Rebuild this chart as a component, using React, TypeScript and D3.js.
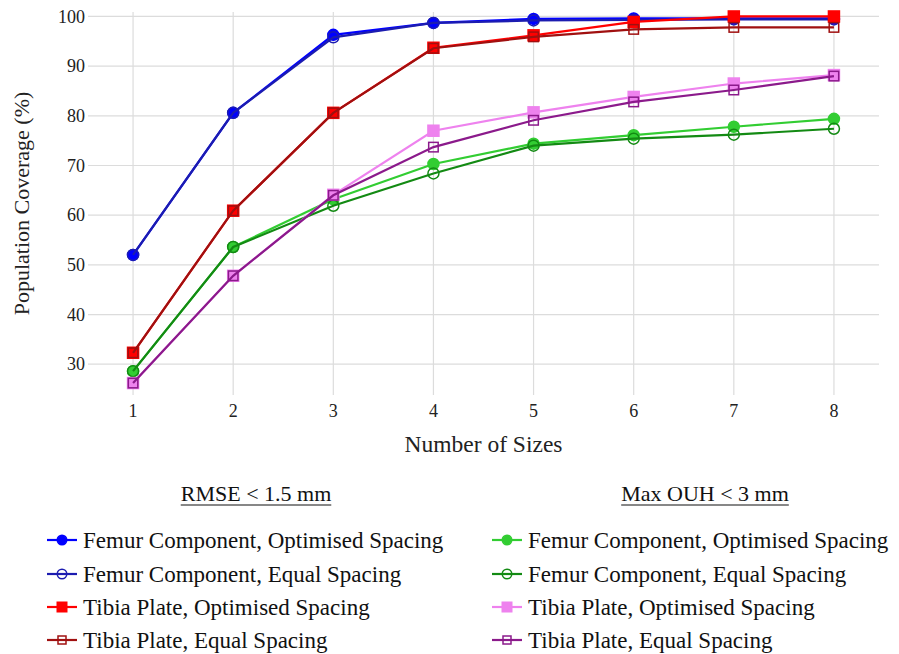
import React, { useEffect, useRef } from 'react';
import * as d3 from 'd3';

// number of sizes on the x axis
const sizes = [1, 2, 3, 4, 5, 6, 7, 8];
const yTicks = [30, 40, 50, 60, 70, 80, 90, 100];

// RMSE < 1.5 mm
const femurOptRmse = [52.0, 80.6, 96.3, 98.7, 99.5, 99.6, 99.6, 99.6];
const femurEqRmse = [52.0, 80.6, 95.8, 98.7, 99.2, 99.3, 99.4, 99.4];
const tibiaOptRmse = [32.3, 60.9, 80.6, 93.7, 96.2, 98.9, 100, 100];
const tibiaEqRmse = [32.3, 60.9, 80.6, 93.6, 95.9, 97.4, 97.8, 97.8];

// Max OUH < 3 mm
const femurOptOuh = [28.6, 53.6, 63.2, 70.3, 74.4, 76.1, 77.8, 79.4];
const femurEqOuh = [28.6, 53.6, 61.9, 68.4, 74.0, 75.4, 76.2, 77.4];
const tibiaOptOuh = [26.2, 47.8, 64.1, 77.0, 80.7, 83.8, 86.5, 88.2];
const tibiaEqOuh = [26.2, 47.8, 64.0, 73.7, 79.1, 82.8, 85.2, 88.0];

const legendTitles = ['RMSE < 1.5 mm', 'Max OUH < 3 mm'];
const seriesLabels = [
  'Femur Component, Optimised Spacing',
  'Femur Component, Equal Spacing',
  'Tibia Plate, Optimised Spacing',
  'Tibia Plate, Equal Spacing',
];

type Series = { values: number[]; color: string; shape: 'circle' | 'square'; filled: boolean; label: string; group: number };

// drawing order: optimised first, equal on top
const series: Series[] = [
  { values: femurOptOuh, color: '#32cd32', shape: 'circle', filled: true, label: seriesLabels[0], group: 1 },
  { values: femurEqOuh, color: '#138a13', shape: 'circle', filled: false, label: seriesLabels[1], group: 1 },
  { values: tibiaOptOuh, color: '#ee82ee', shape: 'square', filled: true, label: seriesLabels[2], group: 1 },
  { values: tibiaEqOuh, color: '#8b1a8b', shape: 'square', filled: false, label: seriesLabels[3], group: 1 },
  { values: femurOptRmse, color: '#0000ff', shape: 'circle', filled: true, label: seriesLabels[0], group: 0 },
  { values: femurEqRmse, color: '#1c1cb0', shape: 'circle', filled: false, label: seriesLabels[1], group: 0 },
  { values: tibiaOptRmse, color: '#ff0000', shape: 'square', filled: true, label: seriesLabels[2], group: 0 },
  { values: tibiaEqRmse, color: '#a01010', shape: 'square', filled: false, label: seriesLabels[3], group: 0 },
];

const FONT = 'Liberation Serif, Times New Roman, serif';

const drawMarker = (g: any, s: Series, cx: number, cy: number, size: number) => {
  if (s.shape === 'circle') {
    g.append('circle').attr('cx', cx).attr('cy', cy).attr('r', size / 2)
      .attr('fill', s.filled ? s.color : 'none')
      .attr('stroke', s.color).attr('stroke-width', 1.5);
  } else {
    const h = s.filled ? size : size - 1.5;
    g.append('rect').attr('x', cx - h / 2).attr('y', cy - h / 2).attr('width', h).attr('height', h)
      .attr('fill', s.filled ? s.color : 'none')
      .attr('stroke', s.color).attr('stroke-width', 1.5);
  }
};

const createChart = (el: SVGSVGElement) => {
  const svg = d3.select(el);
  svg.selectAll('*').remove();

  const left = 88, right = 879, top = 12, bottom = 395;

  const x = d3.scaleLinear().domain([0.55, 8.45]).range([left, right]);
  const y = d3.scaleLinear().domain([23.8, 100.9]).range([bottom, top]);

  // grid
  svg.append('g').selectAll('line').data(yTicks).enter().append('line')
    .attr('x1', left).attr('x2', right)
    .attr('y1', (d) => y(d)).attr('y2', (d) => y(d))
    .attr('stroke', '#dcdcdc').attr('stroke-width', 1.2);
  svg.append('g').selectAll('line').data(sizes).enter().append('line')
    .attr('x1', (d) => x(d)).attr('x2', (d) => x(d))
    .attr('y1', top).attr('y2', bottom)
    .attr('stroke', '#dcdcdc').attr('stroke-width', 1.2);

  // tick labels
  svg.append('g').selectAll('text').data(yTicks).enter().append('text')
    .attr('x', left - 3).attr('y', (d) => y(d)).attr('dy', '0.34em')
    .attr('text-anchor', 'end').attr('font-family', FONT).attr('font-size', 18).attr('fill', '#222')
    .text((d) => d);
  svg.append('g').selectAll('text').data(sizes).enter().append('text')
    .attr('x', (d) => x(d)).attr('y', bottom + 22)
    .attr('text-anchor', 'middle').attr('font-family', FONT).attr('font-size', 18).attr('fill', '#222')
    .text((d) => d);

  // axis titles
  svg.append('text')
    .attr('transform', `translate(29,${(top + bottom) / 2}) rotate(-90)`)
    .attr('text-anchor', 'middle').attr('font-family', FONT).attr('font-size', 22).attr('fill', '#222')
    .text('Population Coverage (%)');
  svg.append('text')
    .attr('x', (left + right) / 2).attr('y', 452)
    .attr('text-anchor', 'middle').attr('font-family', FONT).attr('font-size', 23.5).attr('fill', '#222')
    .text('Number of Sizes');

  // lines and markers
  const line = d3.line<number>().x((d, i) => x(sizes[i])).y((d) => y(d));
  series.forEach((s) => {
    const g = svg.append('g');
    g.append('path').datum(s.values)
      .attr('fill', 'none').attr('stroke', s.color).attr('stroke-width', 2.2)
      .attr('d', line);
    s.values.forEach((v, i) => drawMarker(g, s, x(sizes[i]), y(v), 11));
  });

  // legend
  const colX = [47, 492];
  const titleX = [256, 705];
  const rowY = [540, 574, 607, 640];
  legendTitles.forEach((t, gi) => {
    const txt = svg.append('text')
      .attr('x', titleX[gi]).attr('y', 501)
      .attr('text-anchor', 'middle').attr('font-family', FONT).attr('font-size', 22).attr('fill', '#111')
      .text(t);
    const bb = (txt.node() as SVGTextElement).getBBox();
    svg.append('line').attr('x1', bb.x).attr('x2', bb.x + bb.width)
      .attr('y1', 505).attr('y2', 505).attr('stroke', '#111').attr('stroke-width', 1.2);
  });
  [0, 1].forEach((gi) => {
    seriesLabels.forEach((label, row) => {
      const s = series.find((q) => q.group === gi && q.label === label) as Series;
      const lx = colX[gi];
      const ly = rowY[row];
      const g = svg.append('g');
      g.append('line').attr('x1', lx).attr('x2', lx + 30).attr('y1', ly).attr('y2', ly)
        .attr('stroke', s.color).attr('stroke-width', 2.2);
      drawMarker(g, s, lx + 15, ly, 9.5);
      g.append('text').attr('x', lx + 36).attr('y', ly).attr('dy', '0.35em')
        .attr('font-family', FONT).attr('font-size', 23).attr('fill', '#111')
        .text(s.label);
    });
  });
};

const App = () => {
  const ref = useRef<SVGSVGElement>(null);
  useEffect(() => {
    if (ref.current) createChart(ref.current);
  }, []);
  return (
    <svg ref={ref} width={899} height={654}
      style={{ position: 'absolute', left: 0, top: 0, background: '#fff' }} />
  );
};

export default App;
